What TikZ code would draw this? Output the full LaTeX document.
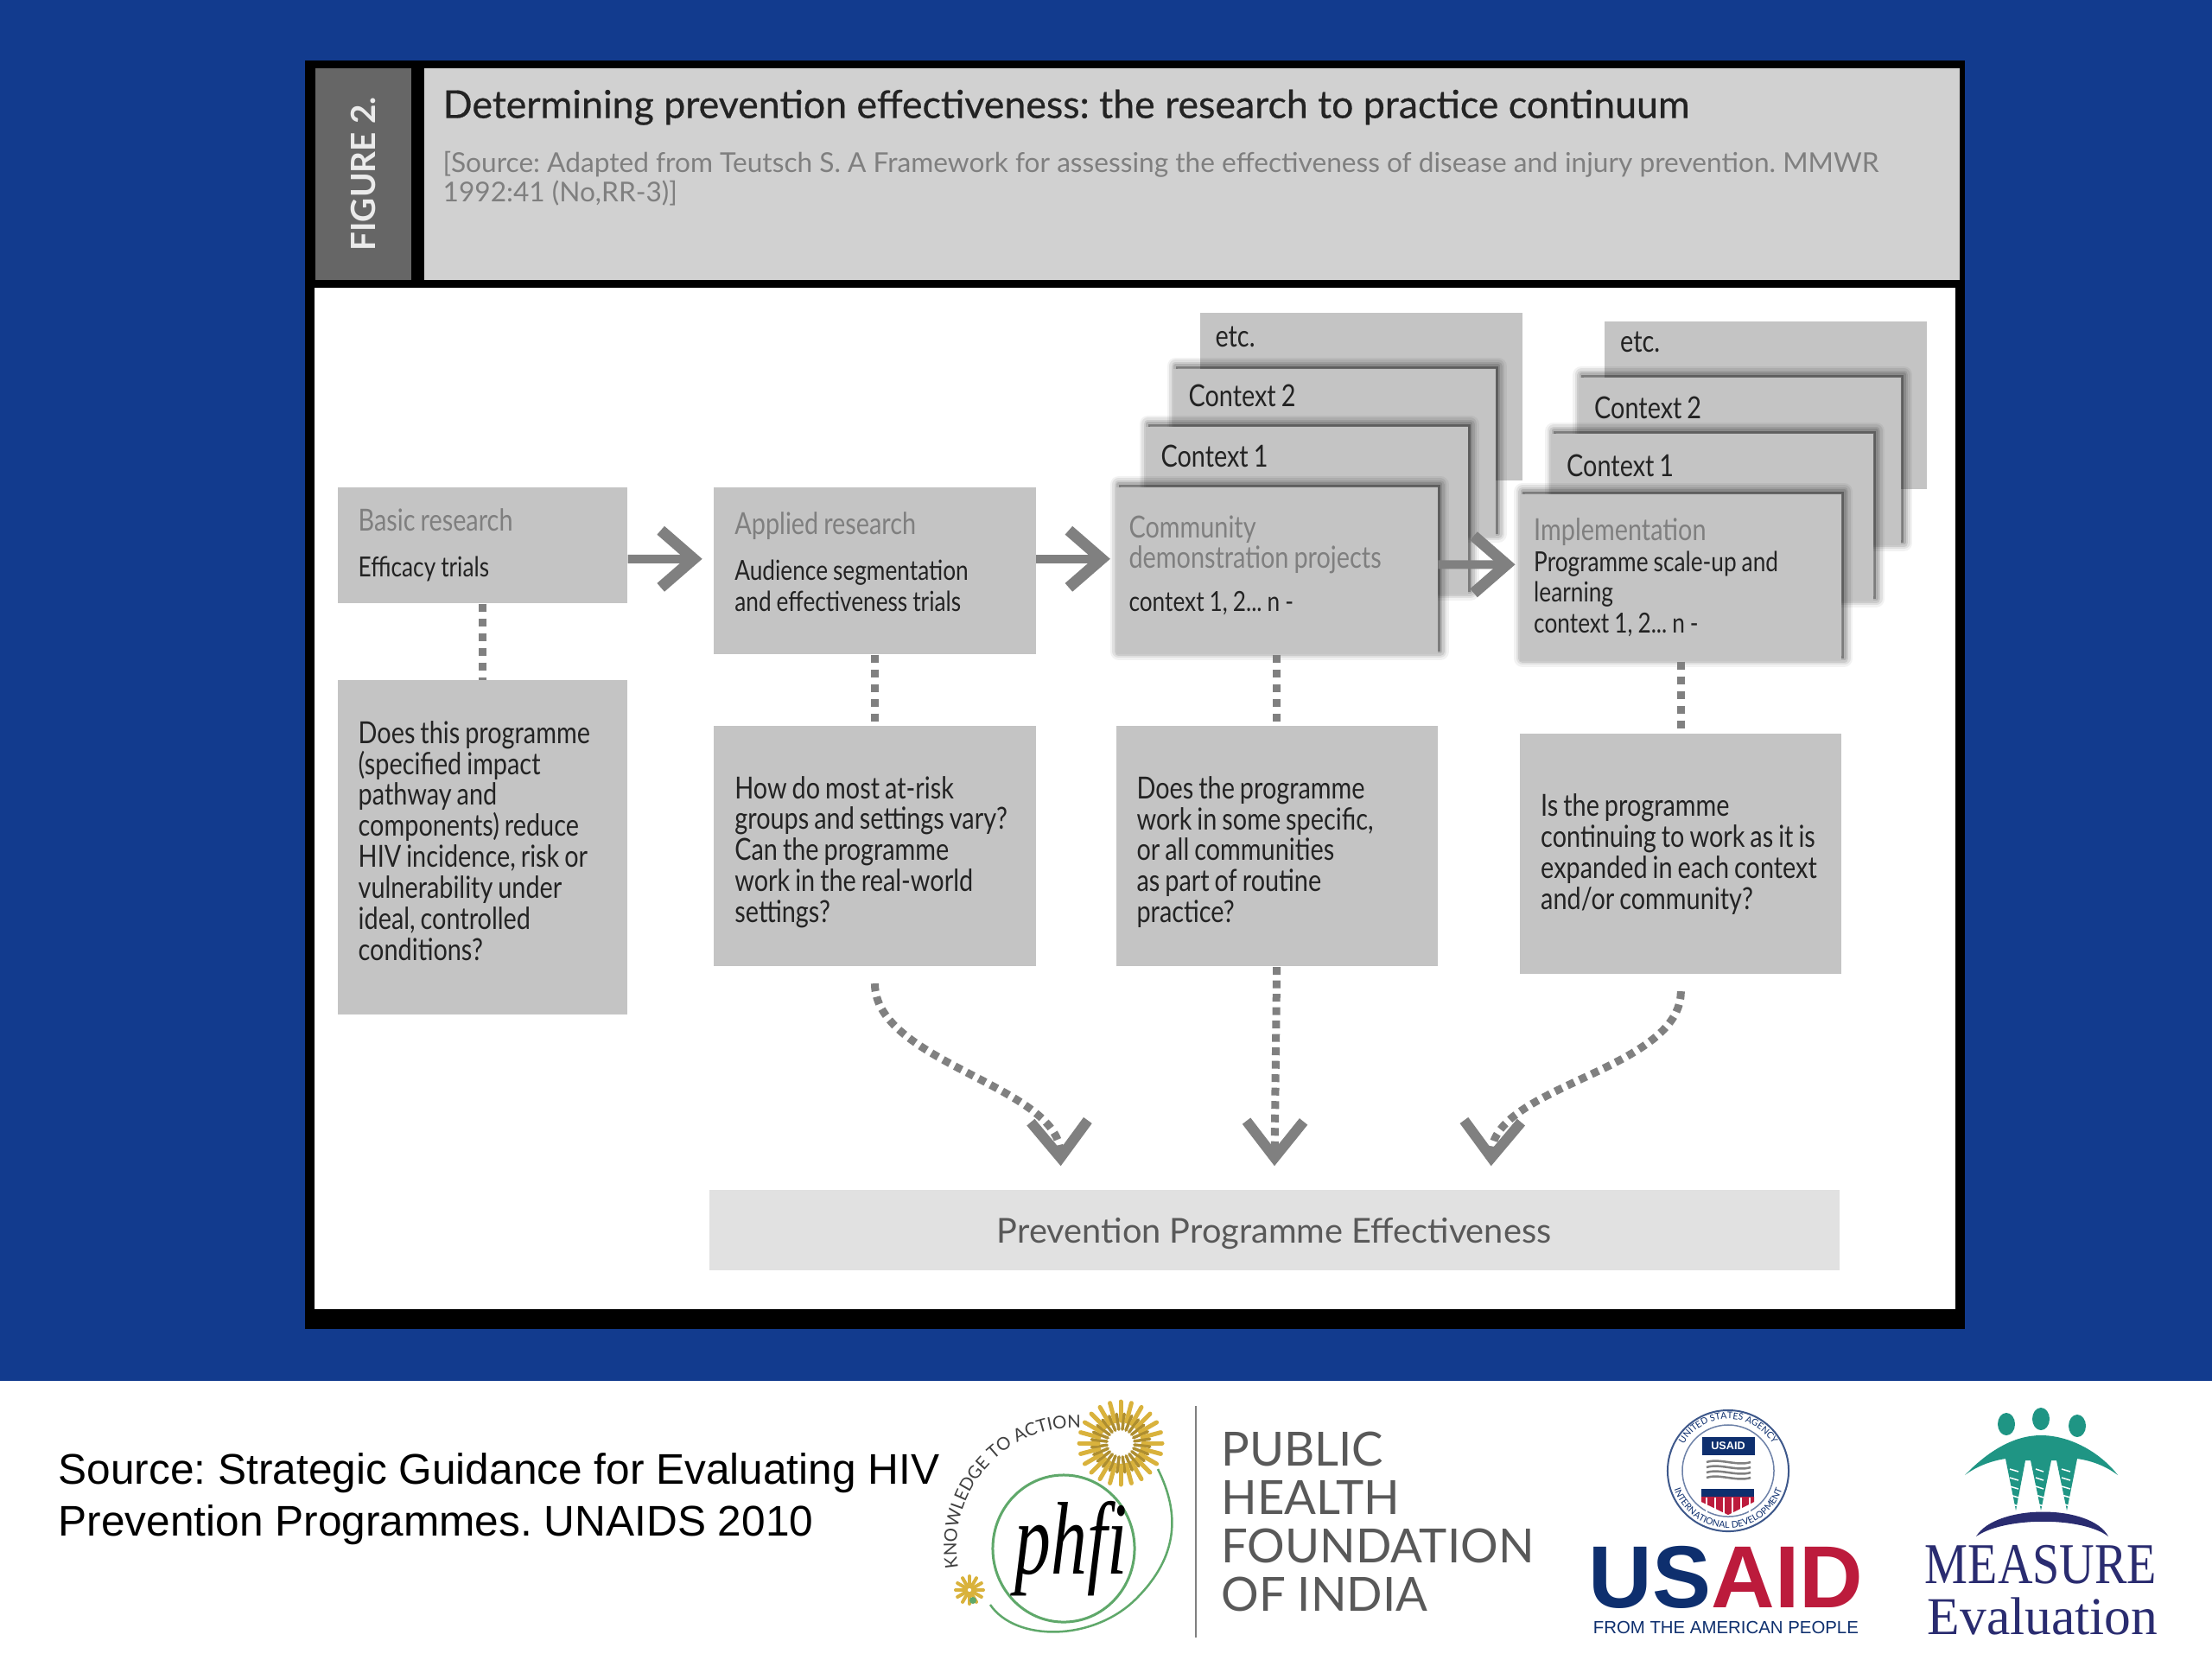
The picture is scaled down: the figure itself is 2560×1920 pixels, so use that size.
\documentclass[tikz,border=0pt]{standalone}
\usepackage{fontspec}
\setmainfont{Lato}
\newfontfamily\narrowfont[FakeStretch=0.82]{Lato}
\newfontfamily\titlefont[FakeBold=0.5]{Lato}
\newfontfamily\arialfont{Liberation Sans}
\newfontfamily\serifname{Liberation Serif}
\newfontfamily\measurefont[FakeStretch=0.84]{Liberation Serif}
\newfontfamily\phfifont[FakeStretch=0.7]{Liberation Serif}
\frenchspacing
\usetikzlibrary{arrows.meta,positioning,calc,shadows,decorations.text}
\definecolor{slideblue}{HTML}{123B8E}
\definecolor{tabgray}{HTML}{666666}
\definecolor{titlegray}{HTML}{D1D1D1}
\definecolor{boxgray}{HTML}{C4C4C4}
\definecolor{headgray}{HTML}{7F7F7F}
\definecolor{linkgray}{HTML}{808080}
\definecolor{inkgray}{HTML}{232323}
\definecolor{leafgreen}{HTML}{5FA86A}
\definecolor{sunyellow}{HTML}{D9B23C}
\definecolor{usaidblue}{HTML}{0E2F6E}
\definecolor{usaidred}{HTML}{BC1B3C}
\definecolor{measureteal}{HTML}{1F9584}
\definecolor{measurenavy}{HTML}{2A2C70}
\pgfdeclarelayer{panel}
\pgfdeclarelayer{stacks}
\pgfsetlayers{panel,stacks,main}
\newcommand{\hd}[1]{{\color{headgray}#1}}
\newcommand{\sm}{\fontsize{9.1}{10.2}\selectfont}
\newcommand{\bodyfont}{\narrowfont\fontsize{10}{10.2}\selectfont}
\newcommand{\tightwords}{\spaceskip=1.7pt\relax\hyphenpenalty=10000\relax}
\begin{document}
\begin{tikzpicture}[x=0.01cm,y=-0.01cm,every node/.style={inner sep=0pt,text=inkgray}]
\tikzstyle{body}=[font=\bodyfont,align=left,inner xsep=.24cm,execute at begin node=\tightwords]
\tikzstyle{greybox}=[body,fill=boxgray,text width=2.87cm,minimum height=1.34cm]
\tikzstyle{widebox}=[greybox,text width=3.24cm,minimum height=1.93cm]
\tikzstyle{qbox}=[widebox,minimum height=2.78cm]
\tikzstyle{softshadow}=[
  general shadow={shadow xshift=.03cm,shadow yshift=.03cm,fill=black,draw=black,line width=.2cm,line join=round,opacity=.05},
  general shadow={shadow xshift=.03cm,shadow yshift=.03cm,fill=black,draw=black,line width=.15cm,line join=round,opacity=.07},
  general shadow={shadow xshift=.03cm,shadow yshift=.03cm,fill=black,draw=black,line width=.1cm,line join=round,opacity=.09},
  general shadow={shadow xshift=.03cm,shadow yshift=.03cm,fill=black,draw=black,line width=.05cm,line join=round,opacity=.12}]
\tikzstyle{stackbox}=[body,fill=boxgray,anchor=north west,inner xsep=.18cm,text width=3.37cm,text height=.5cm,text depth=1.44cm]
\tikzstyle{flow}=[draw=linkgray,line width=.1cm,-{_[sep=-.12cm]Straight Barb[length=.38cm,width=.66cm,line width=.13cm]}]
\tikzstyle{dots}=[draw=linkgray,line width=.09cm,dash pattern=on .09cm off .08cm]
\tikzstyle{feed}=[draw=linkgray,line width=.09cm,dash pattern=on .09cm off .065cm,-{_[sep=-.12cm]Straight Barb[length=.42cm,width=.66cm,line width=.12cm]}]
\useasboundingbox (0,0) rectangle (2560,1920);
\begin{pgfonlayer}{panel}
\fill[slideblue] (0,0) rectangle (2560,1920);
\fill[white] (0,1598) rectangle (2560,1920);
\fill[black] (353,70) rectangle (2274,1538);
\fill[white] (364,333) rectangle (2263,1515);
\end{pgfonlayer}
% heading of the figure
\node[fill=titlegray,anchor=north west,minimum width=17.76cm,minimum height=2.45cm] (titlebar) at (490,78) {};
\node[fill=tabgray,left=.13cm of titlebar,minimum width=1.115cm,minimum height=2.45cm] (figtab) {};
\node[rotate=90,font=\bfseries\fontsize{11}{13}\selectfont,text=white!92!black] (figlabel) at (figtab) {FIGURE 2.};
\node[anchor=north west,font=\titlefont\fontsize{12.7}{14}\selectfont] (titletext) at ([shift={(.22cm,-.25cm)}]titlebar.north west) {Determining prevention effectiveness: the research to practice continuum};
\node[below=.29cm of titletext.south west,anchor=north west,align=left,text=headgray,font=\fontsize{9}{9.8}\selectfont] (sourcetext) {[Source: Adapted from Teutsch S. A Framework for assessing the effectiveness of disease and injury prevention. MMWR\\1992:41 (No,RR-3)]};
% main row and questions
\node[greybox,anchor=north west] (basic) at (390,563) {\hd{Basic research}\\[5pt]{\sm Efficacy trials}};
\node[greybox,below=.88cm of basic,minimum height=3.87cm] (qbasic) {Does this programme\\(specified impact\\pathway and\\components) reduce\\HIV incidence, risk or\\vulnerability under\\ideal, controlled\\conditions?\\[-5.6pt]\mbox{}};
\node[widebox,right=.99cm of basic.north east,anchor=north west] (applied) {\hd{Applied research}\\[5pt]{\sm Audience segmentation\\and effectiveness trials}\\[-4.5pt]\mbox{}};
\node[qbox,below=.82cm of applied] (qapplied) {\strut\\[-7.4pt]How do most at-risk\\groups and settings vary?\\Can the programme\\work in the real-world\\settings?};
\node[widebox,softshadow,right=.915cm of applied,inner xsep=.15cm,text width=3.42cm] (community) {\hd{Community}\\\hd{demonstration projects}\\[4pt]{\sm context 1, 2... n -}\\[-5.6pt]\mbox{}};
\node[qbox,below=.82cm of community] (qcommunity) {\strut\\[-7.4pt]Does the programme\\work in some specific,\\or all communities\\as part of routine\\practice?};
\node[widebox,softshadow,right=.94cm of community,yshift=-.08cm,inner xsep=.16cm,text width=3.4cm] (implement) {\hd{Implementation}\\{\sm Programme scale-up and\\learning\\context 1, 2... n -}};
\node[qbox,below=.83cm of implement] (qimplement) {Is the programme\\continuing to work as it is\\expanded in each context\\and/or community?};
\node[below=2.57cm of qcommunity,xshift=-.03cm,fill=boxgray!50,minimum width=13.07cm,minimum height=.93cm,text=headgray!70!black,font=\fontsize{11.3}{12}\selectfont] (effect) {\raisebox{-.15cm}[0pt][0pt]{Prevention Programme Effectiveness}};
% contexts behind
\begin{pgfonlayer}{stacks}
\node[stackbox,text height=.4cm,text depth=1.54cm] (etcA) at ([shift={(97,-202)}]community.north west) {etc.};
\node[stackbox,softshadow,text height=.44cm,text depth=1.5cm] (ctxtwoA) at ([shift={(66,-137)}]community.north west) {Context 2};
\node[stackbox,softshadow,text height=.47cm,text depth=1.47cm] (ctxoneA) at ([shift={(34,-70)}]community.north west) {Context 1};
\node[stackbox,text height=.36cm,text depth=1.58cm] (etcB) at ([shift={(98,-200)}]implement.north west) {etc.};
\node[stackbox,softshadow,text height=.48cm,text depth=1.46cm] (ctxtwoB) at ([shift={(68,-135)}]implement.north west) {Context 2};
\node[stackbox,softshadow] (ctxoneB) at ([shift={(36,-70)}]implement.north west) {Context 1};
\end{pgfonlayer}
% links
\draw[flow,shorten >=.13cm] ([yshift=-.16cm]basic.east) -- ([yshift=.135cm]applied.west);
\draw[flow,shorten >=.06cm] ([yshift=.135cm]applied.east) -- ([yshift=.135cm]community.west);
\draw[flow,shorten >=.05cm] ([yshift=.07cm]community.east) -- ([yshift=.15cm]implement.west);
\draw[dots] (basic) -- (qbasic);
\draw[dots] (applied) -- (qapplied);
\draw[dots] (community) -- (qcommunity);
\draw[dots] (implement) -- (qimplement);
\draw[feed,shorten <=.19cm,shorten >=.27cm] (qapplied.south) .. controls +(0,110) and +(-4,-120) .. ([xshift=-2.46cm]effect.north);
\draw[feed,shorten >=.27cm] (qcommunity.south) -- (effect.north);
\draw[feed,shorten <=.19cm,shorten >=.27cm] (qimplement.south) .. controls +(0,110) and +(4,-120) .. ([xshift=2.5cm]effect.north);
% footer
\node[anchor=west,align=left,font=\arialfont\fontsize{14.1}{17}\selectfont,text=black] (sourcenote) at (67,1735) {Source: Strategic Guidance for Evaluating HIV\\Prevention Programmes. UNAIDS 2010};
% phfi logo
\draw[leafgreen,line width=.03cm] (1231,1792) ellipse [x radius=.82cm,y radius=.85cm];
\draw[leafgreen,line width=.025cm] (1146,1857) .. controls (1175,1900) and (1265,1900) .. (1315,1850) .. controls (1365,1800) and (1365,1750) .. (1340,1700);
\foreach \ang in {0,15,...,345} {
  \draw[sunyellow,line width=.05cm,line cap=round] (1297,1670) ++(\ang:26) -- ++(\ang:22);
  \draw[sunyellow!80!black,line width=.035cm,line cap=round] (1297,1670) ++(\ang+7:16) -- ++(\ang+7:18);
}
\foreach \ang in {0,30,...,330} {
  \draw[sunyellow,line width=.04cm,line cap=round] (1122,1840) ++(\ang:4) -- ++(\ang:12);
}
\fill[leafgreen] (1126,1852) circle [radius=.04cm];
\path[decorate,decoration={text along path,text={|\fontsize{5.8}{6}\selectfont\color{darkgray}|KNOWLEDGE TO ACTION}}] (1109,1814) arc [start angle=190,end angle=85,radius=1.38cm];
\node[font=\phfifont\itshape\fontsize{34}{36}\selectfont,text=black] (phfimark) at (1240,1792) {phfi};
\node[draw=none,fill=gray,minimum width=.02cm,minimum height=2.68cm] (phfirule) at (1384,1761) {};
\node[right=.27cm of phfirule,align=left,text=black!65,font=\fontsize{15.5}{16}\selectfont] (phfiname) {PUBLIC\\HEALTH\\FOUNDATION\\OF INDIA};
% usaid logo
\draw[usaidblue!80,line width=.02cm] (2000,1702) circle [radius=.7cm];
\draw[usaidblue!60,line width=.015cm] (2000,1702) circle [radius=.53cm];
\path[decorate,decoration={text along path,text={|\fontsize{3}{3}\selectfont\color{usaidblue}|UNITED STATES AGENCY},text align=center}] (1940,1702) arc [start angle=180,end angle=0,radius=.6cm];
\path[decorate,decoration={text along path,text={|\fontsize{3}{3}\selectfont\color{usaidblue}|INTERNATIONAL DEVELOPMENT},text align=center}] (1934,1702) arc [start angle=180,end angle=360,radius=.66cm];
\node[fill=usaidblue,minimum width=.61cm,minimum height=.21cm,font=\arialfont\bfseries\fontsize{3.6}{4}\selectfont,text=white] (sealtag) at (2000,1673) {USAID};
\foreach \hy in {1692,1698,1704,1710} {
  \draw[gray,line width=.025cm] (1975,\hy) .. controls (1990,\hy-5) and (2010,\hy+5) .. (2026,\hy);
}
\fill[usaidblue] (1969,1723) rectangle (2030,1732);
\fill[usaidred] (1969,1732) -- (2030,1732) -- (2030,1738) -- (2000,1753) -- (1969,1738) -- cycle;
\foreach \sx in {1975,1985,...,2025} {
  \draw[white,line width=.018cm] (\sx,1733) -- (\sx,1752);
}
\node[anchor=west,font=\arialfont\bfseries\fontsize{29}{30}\selectfont] (usaidword) at (1838,1825) {\textcolor{usaidblue}{US}\textcolor{usaidred}{AID}};
\node[below=.14cm of usaidword,font=\arialfont\fontsize{5.8}{6}\selectfont,text=usaidblue] (usaidline) {FROM THE AMERICAN PEOPLE};
% measure logo
\fill[measureteal] (2322,1648) ellipse [x radius=.1cm,y radius=.13cm];
\fill[measureteal] (2362,1642) ellipse [x radius=.1cm,y radius=.13cm];
\fill[measureteal] (2404,1650) ellipse [x radius=.1cm,y radius=.13cm];
\fill[measureteal] (2274,1707) .. controls (2300,1680) and (2330,1661) .. (2362,1661) .. controls (2395,1661) and (2430,1680) .. (2451,1707) .. controls (2435,1695) and (2418,1690) .. (2404,1688) -- (2392,1748) -- (2380,1690) -- (2374,1690) -- (2362,1748) -- (2350,1690) -- (2344,1690) -- (2333,1748) -- (2321,1688) .. controls (2308,1690) and (2290,1695) .. cycle;
\foreach \ry in {1700,1710,...,1740} {
  \draw[white,line width=.015cm] (2326,\ry) -- (2336,\ry+3);
  \draw[white,line width=.015cm] (2356,\ry) -- (2365,\ry+3);
  \draw[white,line width=.015cm] (2386,\ry) -- (2396,\ry+3);
}
\fill[measurenavy] (2287,1778) .. controls (2310,1740) and (2420,1740) .. (2440,1778) .. controls (2410,1755) and (2320,1755) .. cycle;
\node[font=\measurefont\fontsize{19}{20}\selectfont,text=measurenavy] (measureword) at (2362,1811) {MEASURE};
\node[font=\serifname\fontsize{17.5}{18}\selectfont,text=measurenavy] (evalword) at (2364,1870) {Evaluation};
\end{tikzpicture}
\end{document}
